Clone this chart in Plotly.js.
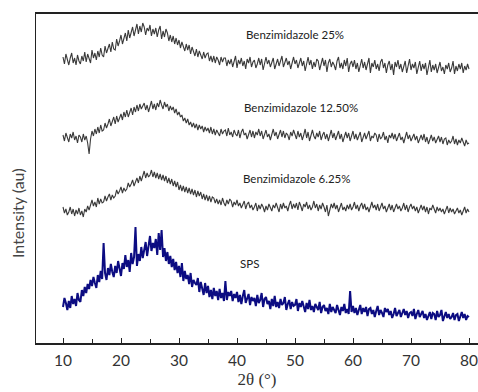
<!DOCTYPE html>
<html>
<head>
<meta charset="utf-8">
<script src="https://cdn.plot.ly/plotly-3.0.1.min.js"></script>
<style>html,body{margin:0;padding:0;background:#fff;overflow:hidden;}#chart{width:500px;height:392px;}</style>
</head>
<body>
<div id="chart"></div>
<script>
// 2-theta sampling grid (start, step)
var thetaStart = 10, thetaStep = 0.25;
var seriesNames = ['Benzimidazole 25%', 'Benzimidazole 12.50%', 'Benzimidazole 6.25%', 'SPS'];
var tickValues = [10, 20, 30, 40, 50, 60, 70, 80];
var tickLabels = ['10', '20', '30', '40', '50', '60', '70', '80'];
var xTitle = '2θ (°)';
var yTitle = 'Intensity (au)';

// stacked intensities (a.u.), 4 samples per degree
var benz25 = [
286,279,289,282, 278,285,290,280, 285,278,288,282, 279,287,282,291, 281,289,284,280,
293,285,290,283, 292,286,295,288, 286,297,290,294, 299,291,301,294, 293,304,297,302,
308,299,306,310, 302,313,305,310, 316,307,314,319, 309,317,311,320, 316,308,315,312,
318,307,314,309, 315,306,313,317, 304,312,306,314, 310,302,308,301, 307,299,305,298,
303,295,301,297, 292,299,293,298, 289,296,291,287, 294,286,292,288, 284,291,285,289,
290,282,287,281, 287,280,286,283, 278,286,281,285, 285,277,283,279, 284,276,282,287,
275,283,279,285, 277,282,274,284, 280,286,276,281, 283,275,279,285, 278,284,273,280,
286,279,283,276, 281,285,274,279, 284,277,282,287, 276,281,285,278, 282,274,280,286,
279,283,275,281, 285,277,282,272, 280,286,278,283, 274,281,276,284, 282,273,279,285,
277,283,271,280, 284,276,281,278, 273,282,286,275, 280,274,283,277, 285,271,279,282,
276,283,274,280, 271,279,284,275, 281,273,278,285, 270,280,276,283, 274,279,272,281,
284,275,280,270, 278,282,273,279, 268,281,276,283, 274,279,271,277, 282,270,278,284,
273,279,275,281, 269,277,282,272, 279,274,280,268, 276,283,271,278, 273,279,270,277,
281,272,276,269, 278,274,280,271, 275,282,269,277, 272,279,274,280, 270,277,273,279,
274];
var benz12 = [
208,202,210,204, 201,209,205,211, 203,207,200,208, 206,201,209,203, 207,200,189,204,
212,207,214,209, 216,210,218,212, 213,220,215,219, 224,217,222,226, 219,227,221,225,
229,223,231,226, 233,226,230,235, 228,236,231,238, 232,239,234,237, 240,233,238,231,
237,242,234,239, 233,240,236,243, 238,234,241,236, 239,232,237,233, 236,230,234,228,
231,226,228,222, 225,220,224,218, 221,216,220,215, 219,213,218,214, 217,211,216,212,
215,210,216,209, 214,208,213,210, 207,214,209,212, 213,207,215,208, 211,206,213,209,
207,213,205,211, 214,208,210,204, 209,213,206,212, 205,211,208,214, 207,212,204,210,
213,206,209,203, 210,214,207,211, 204,209,213,206, 212,205,210,208, 203,211,207,213,
209,204,212,206, 210,203,208,214, 205,211,202,209, 213,207,204,210, 206,212,203,208,
211,204,209,202, 207,213,205,210, 203,208,212,204, 209,201,207,211, 205,210,202,208,
212,204,209,203, 207,211,201,206, 210,204,208,212, 202,207,205,210, 208,201,209,204,
206,211,203,207, 200,208,205,210, 204,209,202,207, 210,203,206,200, 207,211,204,208,
202,206,209,203, 207,200,205,208, 203,209,201,206, 199,205,208,202, 206,200,204,207,
201,206,199,204, 205,198,203,200, 202,207,199,204, 198,203,200,205, 201,197,203,199,
200];
var benz6 = [
136,130,134,128, 131,136,129,134, 127,133,129,135, 128,132,126,134, 131,137,133,138,
143,137,141,136, 145,139,144,140, 141,147,142,146, 149,143,148,145, 147,153,149,152,
156,150,155,152, 154,160,156,159, 163,157,161,165, 160,167,162,168, 172,165,170,166,
168,173,166,171, 165,170,164,169, 163,168,162,167, 160,165,159,164, 157,162,156,161,
153,158,152,157, 151,156,150,155, 149,154,148,153, 146,152,147,151, 144,149,143,148,
142,147,141,146, 145,140,144,139, 143,138,145,140, 137,143,139,144, 142,136,141,138,
143,137,140,135, 138,142,134,139, 141,135,138,133, 136,140,132,138, 134,139,136,131,
137,133,139,135, 132,138,135,140, 136,131,139,134, 140,135,137,132, 138,142,134,139,
135,140,133,141, 137,132,139,136, 141,134,138,133, 136,142,135,139, 132,138,134,140,
136,131,138,127, 133,139,135,140, 134,138,131,137, 140,133,136,132, 138,134,139,133,
136,141,134,138, 132,137,140,134, 139,133,136,131, 137,141,135,138, 133,139,132,136,
140,134,137,131, 135,139,133,138, 131,136,139,134, 137,132,135,140, 133,138,131,136,
139,134,137,132, 136,130,135,138, 133,137,131,136, 129,135,133,138, 134,130,136,132,
135,131,134,129, 133,137,130,135, 131,134,129,133, 135,130,133,128, 132,136,130,134,
131];
var sps = [
36,45,40,33, 42,35,47,39, 44,37,50,43, 41,53,47,56, 50,59,54,63,
57,66,60,55, 68,61,72,64, 100,70,63,75, 68,79,71,66, 77,70,82,73,
67,80,74,88, 76,83,71,90, 79,86,116,77, 89,82,96,85, 93,101,87,97,
107,92,100,95, 104,88,110,93, 113,86,95,82, 91,79,87,76, 84,73,81,70,
77,66,80,62, 72,64,68,59, 70,56,63,60, 58,65,51,61, 55,48,60,50,
57,46,53,44, 55,47,52,43, 54,45,50,42, 62,43,51,47, 52,42,49,45,
51,41,48,39, 47,53,40,45, 49,38,46,42, 45,37,48,40, 43,50,36,44,
46,39,42,34, 44,37,47,36, 41,35,44,38, 40,46,33,39, 43,34,41,37,
38,44,32,40, 36,42,35,31, 40,34,43,33, 37,31,39,35, 33,41,30,36,
38,32,35,29, 39,31,36,33, 30,38,34,28, 36,32,39,30, 34,29,52,31,
37,30,35,28, 33,38,29,35, 31,36,27,34, 35,29,33,26, 32,37,28,33,
30,26,35,31, 34,28,32,25, 29,35,27,31, 33,26,30,34, 28,32,25,30,
31,27,34,24, 29,33,26,30, 32,25,29,23, 27,31,24,30, 29,23,32,26,
28,33,22,27, 31,25,29,24, 26,30,23,28, 29,22,27,31, 25,29,23,27,
26];

function grid(n) { var a = []; for (var i = 0; i < n; i++) a.push(thetaStart + i * thetaStep); return a; }

var grayLine = {color: '#3a3a3a', width: 1.1};
var traces = [
  {x: grid(benz25.length), y: benz25, type: 'scatter', mode: 'lines', line: grayLine, name: seriesNames[0]},
  {x: grid(benz12.length), y: benz12, type: 'scatter', mode: 'lines', line: grayLine, name: seriesNames[1]},
  {x: grid(benz6.length), y: benz6, type: 'scatter', mode: 'lines', line: grayLine, name: seriesNames[2]},
  {x: grid(sps.length), y: sps, type: 'scatter', mode: 'lines', line: {color: '#0c0c82', width: 2}, name: seriesNames[3]}
];

var labelPos = [[41.2, 309], [40.9, 236], [40.7, 165], [40.1, 80]];
var annotations = seriesNames.map(function (t, i) {
  return {x: labelPos[i][0], y: labelPos[i][1], xref: 'x', yref: 'y', text: t, showarrow: false,
          xanchor: 'left', yanchor: 'middle', font: {family: 'Lato, sans-serif', size: 11.5, color: '#222'}};
});
annotations.push({xref: 'paper', yref: 'paper', x: -0.043, y: 0.395, text: yTitle, showarrow: false,
  textangle: -90, xanchor: 'center', yanchor: 'middle',
  font: {family: 'Lato, sans-serif', size: 16, color: '#444'}});

var layout = {
  width: 500, height: 392,
  margin: {l: 36, r: 22, t: 14, b: 49},
  paper_bgcolor: '#fff', plot_bgcolor: '#fff',
  showlegend: false,
  xaxis: {
    range: [5.345, 81.55], showgrid: false, zeroline: false,
    showline: true, linecolor: '#222', linewidth: 2, mirror: true,
    tickmode: 'array', tickvals: tickValues, ticktext: tickLabels,
    ticks: 'inside', ticklen: 5, tickcolor: '#222', tickwidth: 1,
    minor: {tickvals: [15, 25, 35, 45, 55, 65, 75], ticks: 'inside', ticklen: 4, tickcolor: '#222', showgrid: false},
    tickfont: {family: 'Lato, sans-serif', size: 15.5, color: '#333'},
    ticklabelstandoff: 2,
    title: {text: xTitle, font: {family: 'Times New Roman, Liberation Serif, serif', size: 17, color: '#333'}, standoff: 6}
  },
  yaxis: {
    range: [0, 329], showgrid: false, zeroline: false,
    showline: true, linecolor: '#222', linewidth: 1.5, mirror: false,
    showticklabels: false, ticks: ''
  },
  annotations: annotations
};

Plotly.newPlot('chart', traces, layout, {staticPlot: true, displayModeBar: false});
</script>
</body>
</html>
